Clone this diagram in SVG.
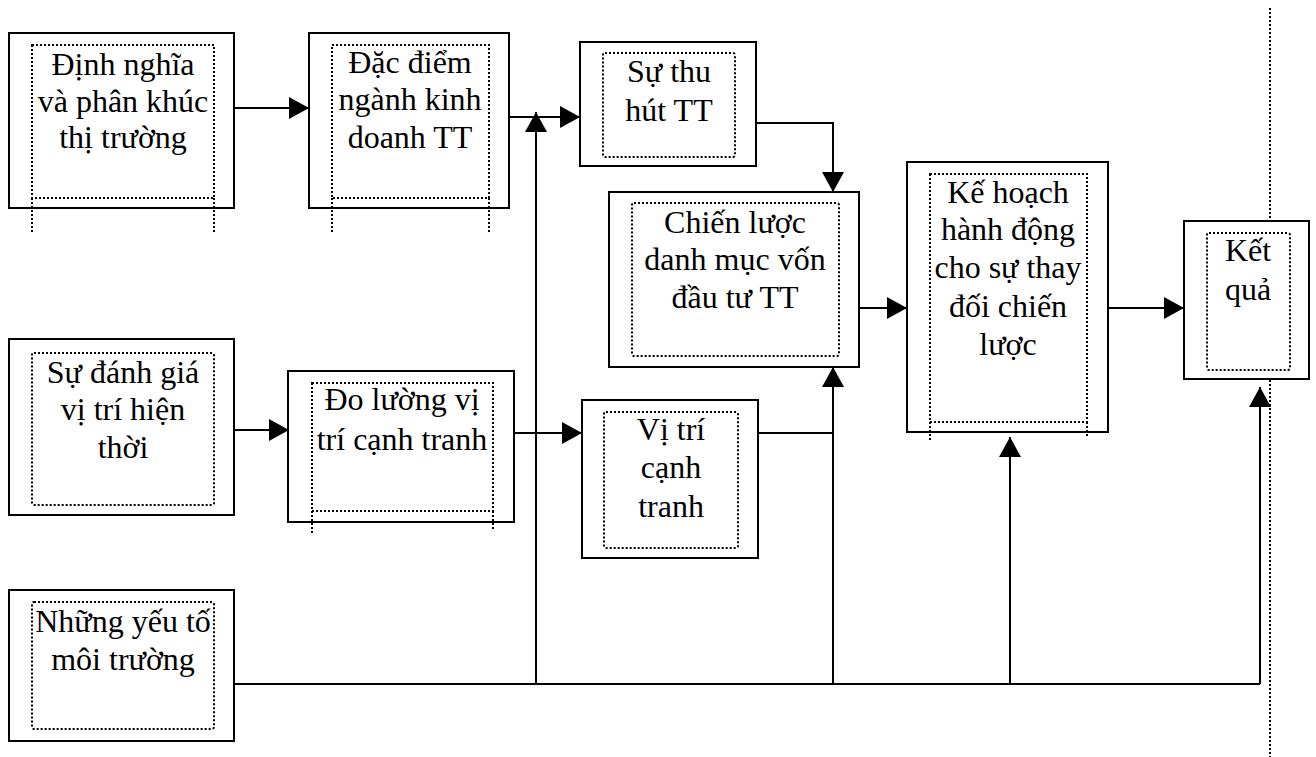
<svg xmlns="http://www.w3.org/2000/svg" width="1316" height="757" viewBox="0 0 1316 757">
<style>
.outer{fill:#fff;stroke:#000;stroke-width:2}
.inner{fill:none;stroke:#000;stroke-width:2;stroke-dasharray:2 2}
.dot{fill:none;stroke:#000;stroke-width:2;stroke-dasharray:2 2}
.t{font-family:"Liberation Serif","Times New Roman",serif;font-size:32px;fill:#000;text-anchor:middle}
.c{fill:none;stroke:#000;stroke-width:2}
.guide{fill:none;stroke:#000;stroke-width:2;stroke-dasharray:2 2}
</style>
<defs>
<marker id="ah" markerUnits="userSpaceOnUse" markerWidth="20" markerHeight="22" refX="20" refY="11" orient="auto" viewBox="0 0 20 22">
<path d="M0,0 L20,11 L0,22 z" fill="#000"/>
</marker>
</defs>
<rect width="1316" height="757" fill="#fff"/>
<line class="guide" x1="1270" y1="8" x2="1270" y2="757"/>
<g id="connectors">
<line class="c" x1="234" y1="108" x2="309" y2="108" marker-end="url(#ah)"/>
<line class="c" x1="509" y1="117" x2="580" y2="117" marker-end="url(#ah)"/>
<polyline class="c" points="756,123 833,123 833,192" marker-end="url(#ah)"/>
<line class="c" x1="859" y1="308" x2="907" y2="308" marker-end="url(#ah)"/>
<line class="c" x1="1108" y1="308" x2="1184" y2="308" marker-end="url(#ah)"/>
<line class="c" x1="234" y1="430" x2="289" y2="430" marker-end="url(#ah)"/>
<line class="c" x1="509" y1="433" x2="582" y2="433" marker-end="url(#ah)"/>
<line class="c" x1="758" y1="433" x2="833" y2="433"/>
<line class="c" x1="234" y1="684" x2="1260" y2="684"/>
<line class="c" x1="536" y1="684" x2="536" y2="112" marker-end="url(#ah)"/>
<line class="c" x1="833" y1="684" x2="833" y2="367" marker-end="url(#ah)"/>
<line class="c" x1="1010" y1="684" x2="1010" y2="437" marker-end="url(#ah)"/>
<polyline class="c" points="1260,684 1260,387" marker-end="url(#ah)"/>
</g>
<g id="n1">
<rect class="outer" x="9" y="33" width="225" height="175"/>
<rect class="inner" x="32" y="45" width="182" height="153"/>
<line class="dot" x1="32" y1="198" x2="32" y2="232"/>
<line class="dot" x1="214" y1="198" x2="214" y2="232"/>
<text class="t" x="123" y="75">Định nghĩa</text>
<text class="t" x="123" y="112">và phân khúc</text>
<text class="t" x="123" y="148">thị trường</text>
</g>
<g id="n2">
<rect class="outer" x="309" y="33" width="200" height="175"/>
<rect class="inner" x="332" y="45" width="157" height="153"/>
<line class="dot" x1="332" y1="198" x2="332" y2="232"/>
<line class="dot" x1="489" y1="198" x2="489" y2="232"/>
<text class="t" x="410" y="73">Đặc điểm</text>
<text class="t" x="410" y="110">ngành kinh</text>
<text class="t" x="410" y="148">doanh TT</text>
</g>
<g id="n3">
<rect class="outer" x="580" y="42" width="176" height="124"/>
<rect class="inner" x="603" y="53" width="132" height="104" rx="2"/>
<text class="t" x="669" y="82">Sự thu</text>
<text class="t" x="669" y="121">hút TT</text>
</g>
<g id="n4">
<rect class="outer" x="609" y="192" width="250" height="175"/>
<rect class="inner" x="632" y="203" width="207" height="153" rx="2"/>
<text class="t" x="735" y="233">Chiến lược</text>
<text class="t" x="735" y="270">danh mục vốn</text>
<text class="t" x="735" y="308">đầu tư TT</text>
</g>
<g id="n5">
<rect class="outer" x="907" y="162" width="201" height="270"/>
<rect class="inner" x="930" y="174" width="157" height="248"/>
<line class="dot" x1="930" y1="422" x2="930" y2="440"/>
<line class="dot" x1="1087" y1="422" x2="1087" y2="438"/>
<text class="t" x="1008" y="203">Kế hoạch</text>
<text class="t" x="1008" y="240">hành động</text>
<text class="t" x="1008" y="278">cho sự thay</text>
<text class="t" x="1008" y="317">đối chiến</text>
<text class="t" x="1008" y="355">lược</text>
</g>
<g id="n6">
<rect class="outer" x="1184" y="221" width="125" height="158"/>
<rect class="inner" x="1207" y="233" width="83" height="137" rx="2"/>
<text class="t" x="1248" y="261">Kết</text>
<text class="t" x="1248" y="300">quả</text>
</g>
<g id="n7">
<rect class="outer" x="9" y="339" width="225" height="176"/>
<rect class="inner" x="32" y="353" width="182" height="152" rx="2"/>
<text class="t" x="123" y="383">Sự đánh giá</text>
<text class="t" x="123" y="420">vị trí hiện</text>
<text class="t" x="123" y="458">thời</text>
</g>
<g id="n8">
<rect class="outer" x="288" y="371" width="226" height="151"/>
<rect class="inner" x="312" y="383" width="181" height="128"/>
<line class="dot" x1="312" y1="511" x2="312" y2="533"/>
<line class="dot" x1="493" y1="511" x2="493" y2="531"/>
<text class="t" x="402" y="410">Đo lường vị</text>
<text class="t" x="402" y="450">trí cạnh tranh</text>
</g>
<g id="n9">
<rect class="outer" x="582" y="400" width="176" height="158"/>
<rect class="inner" x="604" y="412" width="134" height="136" rx="2"/>
<text class="t" x="671" y="440">Vị trí</text>
<text class="t" x="671" y="478">cạnh</text>
<text class="t" x="671" y="517">tranh</text>
</g>
<g id="n10">
<rect class="outer" x="9" y="590" width="225" height="151"/>
<rect class="inner" x="32" y="602" width="182" height="127" rx="2"/>
<text class="t" x="123" y="632">Những yếu tố</text>
<text class="t" x="123" y="670">môi trường</text>
</g>
</svg>
